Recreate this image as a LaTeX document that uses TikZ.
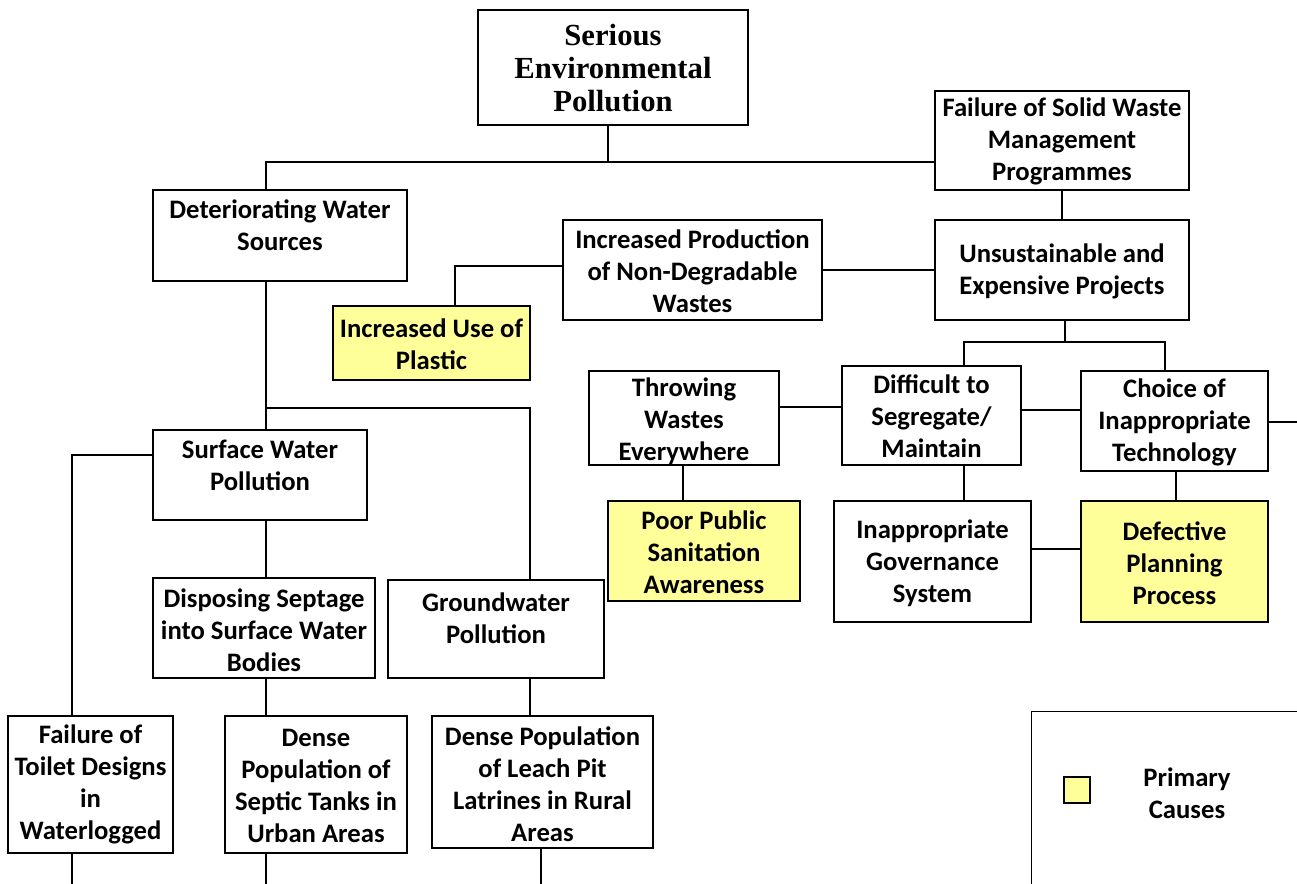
\documentclass[tikz,border=0pt]{standalone}
\usepackage{fontspec}
\setmainfont{Carlito}
\newfontfamily\titlefont{Liberation Serif}
\definecolor{prim}{RGB}{255,255,153}
\tikzset{
  box/.style={draw=black, line width=1.1pt, fill=white, inner sep=0pt},
  primbox/.style={box, fill=prim},
  txt/.style={align=center, inner sep=0pt, font=\fontsize{20}{24}\selectfont\bfseries},
  titletxt/.style={align=center, inner sep=0pt, font=\titlefont\fontsize{23}{24.75}\selectfont\bfseries},
  conn/.style={draw=black, line width=0.9pt},
}
% [style]{x1}{y1}{x2}{y2}{name}{text centre y}{text}
\newcommand{\mkbox}[8][box]{%
  \pgfmathsetmacro{\mkw}{(#4-#2)*0.75}%
  \pgfmathsetmacro{\mkh}{(#5-#3)*0.75}%
  \node[#1, minimum width=\mkw pt, minimum height=\mkh pt] (#6) at ({(#2+#4)/2},{(#3+#5)/2}) {};%
  \node[txt] (#6t) at ({(#2+#4)/2},#7) {#8};}
\begin{document}
\begin{tikzpicture}[x=0.75pt,y=-0.75pt]
\useasboundingbox (0,0) rectangle (1297,884);
\clip (0,0) rectangle (1297,884);

% title box
\node[box, minimum width=202.5pt, minimum height=86.25pt] (title) at (613,67.5) {};
\node[titletxt] (titlet) at (613,68) {Serious\\Environmental\\Pollution};

% boxes
\mkbox{935}{91}{1189}{190}{fsw}{141}{Failure of Solid Waste\\Management\\Programmes}
\mkbox{153}{190}{407}{281}{dws}{225}{Deteriorating Water\\Sources}
\mkbox{563}{220}{822}{320}{ipd}{271}{Increased Production\\of Non-Degradable\\Wastes}
\mkbox{935}{220}{1189}{320}{uns}{271}{Unsustainable and\\Expensive Projects}
\mkbox[primbox]{333}{306}{530}{380}{plastic}{344}{Increased Use of\\Plastic}
\mkbox{153}{430}{367}{520}{swp}{465}{Surface Water\\Pollution}
\mkbox{153}{578}{375}{678}{dsp}{630}{Disposing Septage\\into Surface Water\\Bodies}
\mkbox{388}{580}{604}{678}{gwp}{618}{Groundwater\\Pollution}
\mkbox{8}{716}{173}{853}{toilet}{784}{Failure of\\Toilet Designs\\in\\Waterlogged}
\mkbox{225}{716}{407}{853}{septic}{786}{Dense\\Population of\\Septic Tanks in\\Urban Areas}
\mkbox{432}{716}{653}{848}{leach}{784}{Dense Population\\of Leach Pit\\Latrines in Rural\\Areas}
\mkbox{589}{371}{779}{465}{throw}{421}{Throwing\\Wastes\\Everywhere}
\mkbox{842}{366}{1021}{465}{diff}{416}{Difficult to\\Segregate/\\Maintain}
\mkbox{1081}{371}{1268}{471}{choice}{422}{Choice of\\Inappropriate\\Technology}
\mkbox[primbox]{608}{501}{800}{601}{poor}{552}{Poor Public\\Sanitation\\Awareness}
\mkbox{834}{501}{1031}{622}{gov}{563}{Inappropriate\\Governance\\System}
\mkbox[primbox]{1081}{501}{1268}{622}{def}{563}{Defective\\Planning\\Process}

% legend
\node[box, minimum width=210pt, minimum height=150pt, anchor=north west] (legend) at (1031,711) {};
\node[primbox, minimum width=19.5pt, minimum height=19.5pt] (swatch) at (1077,790) {};
\node[txt] (legendt) at (1187,793) {Primary\\Causes};

% free ends
\coordinate (e1) at (72,884);
\coordinate (e2) at (266,884);
\coordinate (e3) at (541,884);
\coordinate (e4) at (1297,422);
\coordinate (j1) at (266,408);

% connectors
\draw[conn] (title.south -| 608,0) -- (608,162);
\draw[conn] (dws.north -| 266,0) |- (fsw.west |- 0,162);
\draw[conn] (fsw.south) -- (uns.north);
\draw[conn] (ipd.east) -- (uns.west);
\draw[conn] (plastic.north -| 455,0) |- (ipd.west |- 0,266);
\draw[conn] (dws.south -| 266,0) -- (swp.north -| 266,0);
\draw[conn] (j1) -| (gwp.north -| 530,0);
\draw[conn] (swp.west |- 0,455) -| (toilet.north -| 72,0);
\draw[conn] (toilet.south -| 72,0) -- (e1);
\draw[conn] (swp.south -| 266,0) -- (dsp.north -| 266,0);
\draw[conn] (dsp.south -| 266,0) -- (septic.north -| 266,0);
\draw[conn] (septic.south -| 266,0) -- (e2);
\draw[conn] (gwp.south -| 530,0) -- (leach.north -| 530,0);
\draw[conn] (leach.south -| 541,0) -- (e3);
\draw[conn] (uns.south -| 1065,0) -- (1065,342);
\draw[conn] (diff.north -| 964,0) |- (1165,342) -- (choice.north -| 1165,0);
\draw[conn] (throw.east |- 0,407) -- (diff.west |- 0,407);
\draw[conn] (diff.east |- 0,410) -- (choice.west |- 0,410);
\draw[conn] (choice.east |- 0,422) -- (e4);
\draw[conn] (throw.south -| 683,0) -- (poor.north -| 683,0);
\draw[conn] (diff.south -| 964,0) -- (gov.north -| 964,0);
\draw[conn] (choice.south -| 1176,0) -- (def.north -| 1176,0);
\draw[conn] (gov.east |- 0,549) -- (def.west |- 0,549);
\end{tikzpicture}
\end{document}
